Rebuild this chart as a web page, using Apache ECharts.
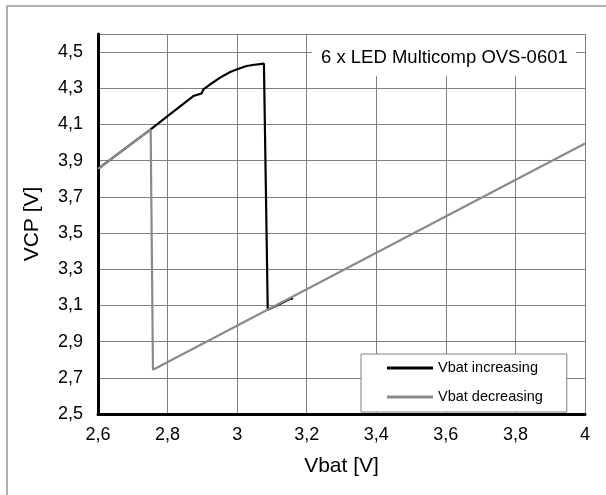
<!DOCTYPE html>
<html>
<head>
<meta charset="utf-8">
<script src="https://cdn.jsdelivr.net/npm/echarts@6/dist/echarts.min.js"></script>
<style>
  html, body { margin: 0; padding: 0; background: #fff; }
  #chart { width: 606px; height: 495px; }
</style>
</head>
<body>
<div id="chart"></div>
<script>
// Charge-pump output voltage vs battery voltage, 6 LEDs (Multicomp OVS-0601)
const chartTitle = '6 x LED Multicomp OVS-0601';
const xName = 'Vbat [V]';
const yName = 'VCP [V]';
const seriesNames = ['Vbat increasing', 'Vbat decreasing'];

// Sweep with Vbat rising
const incVbat = [2.6, 2.7514, 2.8, 2.874, 2.888, 2.898, 2.903, 2.92, 2.951, 2.98, 3.0, 3.027, 3.05, 3.077, 3.088, 3.12, 3.155, 3.16];
const incVcp  = [3.855, 4.0725, 4.146, 4.257, 4.266, 4.272, 4.294, 4.318, 4.359, 4.39, 4.405, 4.423, 4.43, 4.436, 3.076, 3.105, 3.14, 3.133];

// Sweep with Vbat falling
const decVbat = [4.0, 2.758, 2.7514, 2.6];
const decVcp  = [3.995, 2.745, 4.0725, 3.855];

// Axis ranges
const xMin = 2.6, xMax = 4.0, xStep = 0.2;
const yMin = 2.5, yMax = 4.6, yStep = 0.2;

const pairs = (xs, ys) => xs.map((x, i) => [x, ys[i]]);
const fmt = v => String(Number(v.toFixed(1))).replace('.', ',');
const FONT = "'Liberation Sans', Arial, sans-serif";

const chart = echarts.init(document.getElementById('chart'));
chart.setOption({
  animation: false,
  backgroundColor: '#fff',
  textStyle: { fontFamily: FONT },
  grid: { left: 98, right: 21, top: 34, bottom: 81 },
  title: {
    text: chartTitle,
    left: 312, top: 35,
    padding: [13, 8, 9, 9],
    backgroundColor: '#fff',
    textStyle: { fontFamily: FONT, fontSize: 18.5, fontWeight: 'normal', color: '#000' }
  },
  legend: {
    orient: 'vertical',
    left: 361, top: 354,
    padding: [6, 24, 7, 26],
    itemGap: 13,
    icon: 'rect',
    itemWidth: 46, itemHeight: 3,
    borderColor: '#808080', borderWidth: 1,
    backgroundColor: '#fff',
    textStyle: { fontFamily: FONT, fontSize: 14.5, color: '#000', lineHeight: 16 },
    data: seriesNames
  },
  xAxis: {
    type: 'value', min: xMin, max: xMax, interval: xStep,
    name: xName, nameLocation: 'middle', nameGap: 42,
    nameTextStyle: { fontFamily: FONT, fontSize: 21, color: '#000' },
    axisLine: { lineStyle: { color: '#000', width: 3 } },
    axisTick: { show: false },
    axisLabel: { formatter: fmt, margin: 12, fontSize: 18, color: '#000', fontFamily: FONT },
    splitLine: { lineStyle: { color: '#808080', width: 1 } }
  },
  yAxis: {
    type: 'value', min: yMin, max: yMax, interval: yStep,
    name: yName, nameLocation: 'middle', nameGap: 55,
    nameTextStyle: { fontFamily: FONT, fontSize: 21, color: '#000' },
    axisLine: { show: true, lineStyle: { color: '#000', width: 3 } },
    axisTick: { show: false },
    axisLabel: {
      formatter: v => (Math.abs(v - yMax) < 1e-9 ? '' : fmt(v)),
      margin: 15, fontSize: 18, color: '#000', fontFamily: FONT
    },
    splitLine: { lineStyle: { color: '#808080', width: 1 } }
  },
  graphic: [{
    type: 'polyline',
    shape: { points: [[7, 600], [7, 6], [700, 6]] },
    style: { stroke: '#999', lineWidth: 1.5, fill: null },
    silent: true
  }],
  series: [
    {
      name: seriesNames[0], type: 'line', symbol: 'none', z: 3,
      data: pairs(incVbat, incVcp),
      itemStyle: { color: '#000' },
      lineStyle: { color: '#000', width: 2.2 }
    },
    {
      name: seriesNames[1], type: 'line', symbol: 'none', z: 4,
      data: pairs(decVbat, decVcp),
      itemStyle: { color: '#8a8a8a' },
      lineStyle: { color: '#8a8a8a', width: 2.2 }
    }
  ]
});
</script>
</body>
</html>
